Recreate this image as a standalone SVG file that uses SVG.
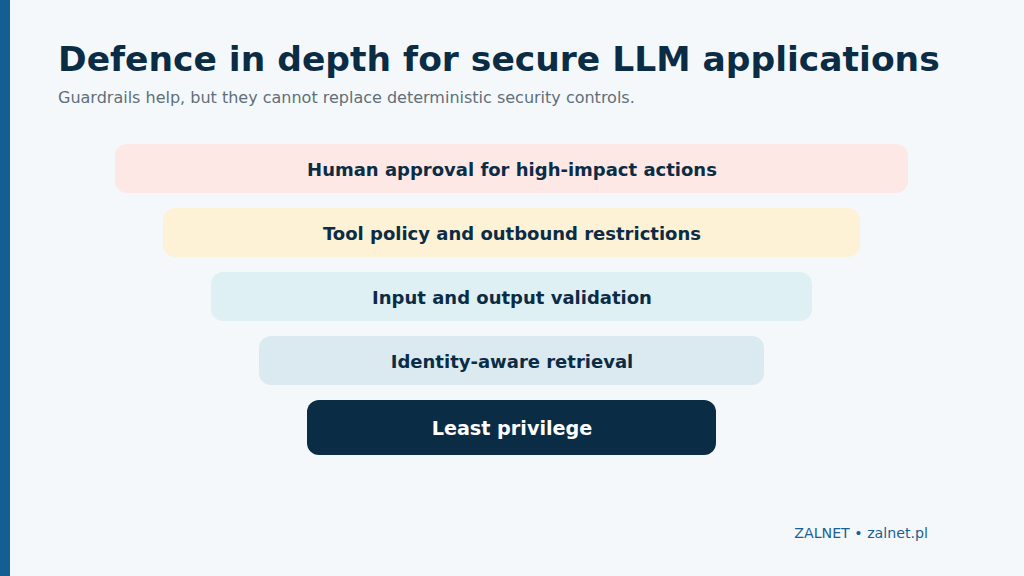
<svg xmlns="http://www.w3.org/2000/svg" width="1024" height="576" viewBox="0 0 1024 576">
<style>
text{font-family:"DejaVu Sans",sans-serif}
.l{font-size:18px;font-weight:bold;fill:#0b2c45;text-anchor:middle}
</style>
<rect width="1024" height="576" fill="#f5f8fa"/>
<rect width="10" height="576" fill="#135f91"/>
<text x="58" y="71" font-size="34.5" font-weight="bold" fill="#0b2c45">Defence in depth for secure LLM applications</text>
<text x="58" y="103" font-size="16" fill="#5f6f7a">Guardrails help, but they cannot replace deterministic security controls.</text>
<g id="layer1"><rect x="115" y="144" width="793" height="49" rx="12" fill="#fde8e6"/><text class="l" x="512" y="176">Human approval for high-impact actions</text></g>
<g id="layer2"><rect x="163" y="208" width="697" height="49" rx="12" fill="#fdf1d6"/><text class="l" x="512" y="240">Tool policy and outbound restrictions</text></g>
<g id="layer3"><rect x="211" y="272" width="601" height="49" rx="12" fill="#dff0f4"/><text class="l" x="512" y="304">Input and output validation</text></g>
<g id="layer4"><rect x="259" y="336" width="505" height="49" rx="12" fill="#dbe9f0"/><text class="l" x="512" y="368">Identity-aware retrieval</text></g>
<g id="layer5"><rect x="307" y="400" width="409" height="55" rx="12" fill="#0b2c45"/><text class="l" x="512" y="435" style="fill:#fff;font-size:19.2px">Least privilege</text></g>
<g id="connectors"/>
<text x="928" y="538" font-size="14.2" fill="#1a5f93" text-anchor="end">ZALNET • zalnet.pl</text>
</svg>
